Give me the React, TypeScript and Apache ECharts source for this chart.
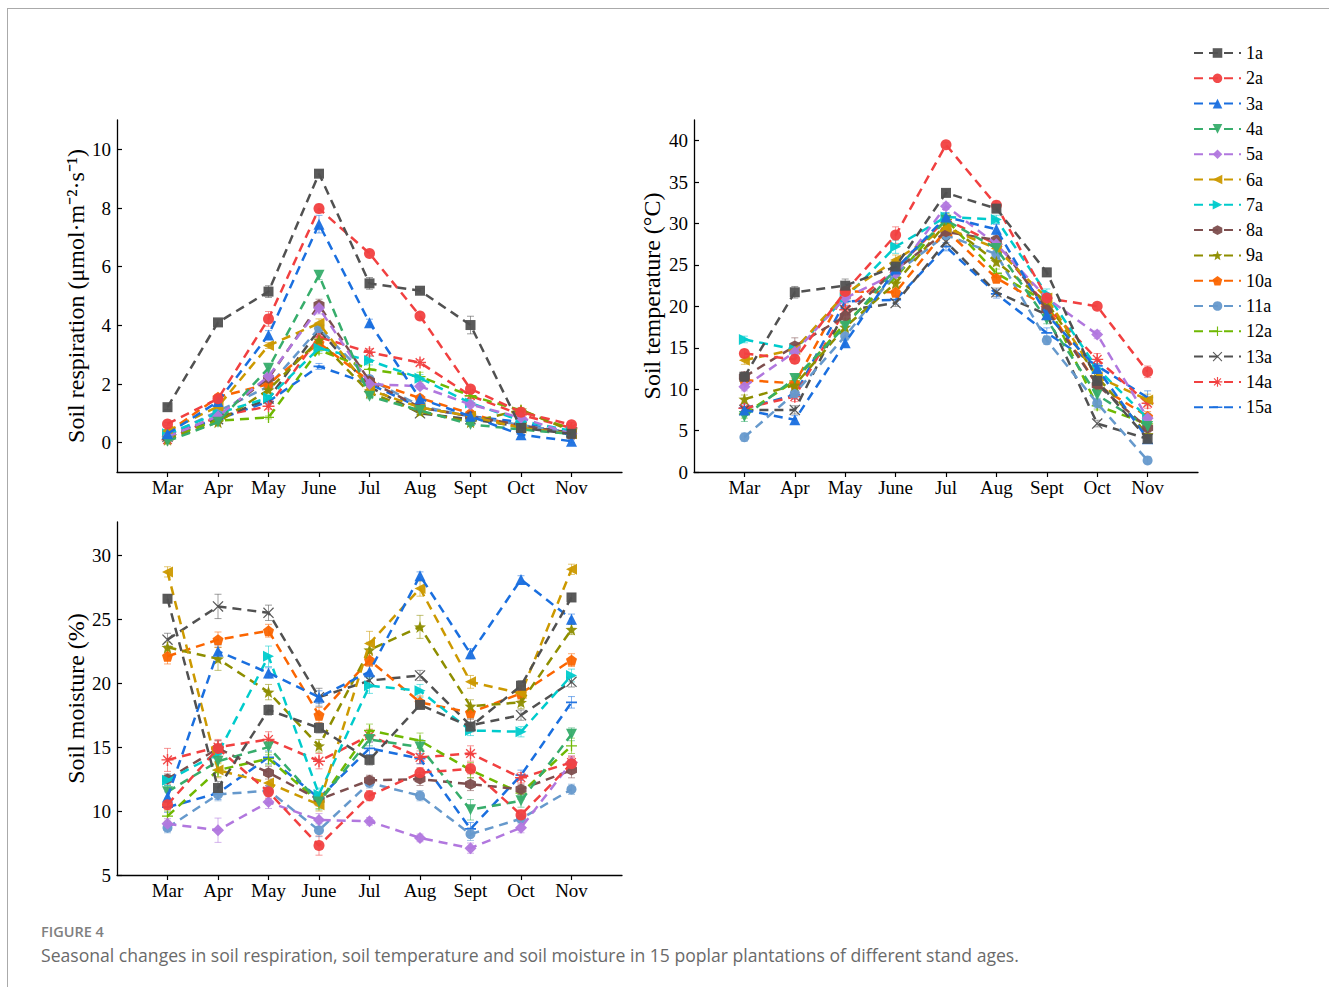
import React, { useEffect, useRef } from 'react';
import * as echarts from 'echarts';

const months = ['Mar', 'Apr', 'May', 'June', 'Jul', 'Aug', 'Sept', 'Oct', 'Nov'];
const standAges = ['1a', '2a', '3a', '4a', '5a', '6a', '7a', '8a', '9a', '10a', '11a', '12a', '13a', '14a', '15a'];

// Soil respiration (μmol·m-2·s-1), one row per stand age, Mar..Nov
const soilRespiration = [
  [1.21, 4.10, 5.15, 9.17, 5.43, 5.18, 4.01, 0.50, 0.30],
  [0.64, 1.50, 4.22, 7.98, 6.45, 4.32, 1.83, 1.04, 0.61],
  [0.30, 1.40, 3.67, 7.45, 4.09, 1.50, 0.90, 0.27, 0.05],
  [0.05, 0.70, 2.54, 5.71, 1.58, 1.10, 0.62, 0.45, 0.30],
  [0.20, 0.90, 2.26, 4.59, 2.00, 1.92, 1.30, 0.85, 0.30],
  [0.40, 1.23, 3.31, 4.07, 1.80, 1.20, 0.90, 0.50, 0.30],
  [0.30, 1.00, 1.53, 3.22, 2.80, 2.20, 1.35, 0.75, 0.40],
  [0.20, 0.90, 2.20, 4.69, 2.10, 1.20, 0.90, 0.60, 0.30],
  [0.10, 0.70, 1.80, 3.50, 1.70, 1.05, 0.70, 1.12, 0.40],
  [0.35, 1.55, 2.00, 3.40, 2.10, 1.52, 1.00, 0.50, 0.30],
  [0.25, 1.07, 1.92, 3.90, 2.17, 1.25, 0.90, 0.60, 0.35],
  [0.20, 0.75, 0.86, 3.16, 2.50, 2.25, 1.60, 1.10, 0.45],
  [0.20, 0.80, 1.50, 3.85, 1.90, 1.00, 0.80, 0.55, 0.35],
  [0.10, 0.90, 1.24, 3.60, 3.08, 2.73, 1.60, 0.95, 0.50],
  [0.30, 0.80, 1.40, 2.60, 2.00, 1.20, 0.90, 0.70, 0.25],
];
const respirationError = [
  [0.08, 0.10, 0.20, 0.10, 0.20, 0.08, 0.30, 0.05, 0.05],
  [0.05, 0.10, 0.25, 0.15, 0.08, 0.12, 0.10, 0.08, 0.08],
  [0.05, 0.08, 0.15, 0.30, 0.12, 0.10, 0.05, 0.05, 0.05],
  [0.05, 0.05, 0.10, 0.15, 0.08, 0.08, 0.05, 0.05, 0.05],
  [0.05, 0.08, 0.12, 0.20, 0.10, 0.10, 0.08, 0.05, 0.05],
  [0.05, 0.10, 0.10, 0.15, 0.10, 0.08, 0.05, 0.05, 0.05],
  [0.05, 0.08, 0.10, 0.12, 0.15, 0.12, 0.08, 0.05, 0.05],
  [0.05, 0.08, 0.12, 0.20, 0.10, 0.08, 0.05, 0.05, 0.05],
  [0.05, 0.05, 0.10, 0.12, 0.10, 0.08, 0.05, 0.08, 0.05],
  [0.05, 0.10, 0.10, 0.12, 0.10, 0.10, 0.08, 0.05, 0.05],
  [0.05, 0.08, 0.10, 0.15, 0.12, 0.08, 0.05, 0.05, 0.05],
  [0.05, 0.05, 0.05, 0.12, 0.25, 0.15, 0.10, 0.05, 0.05],
  [0.05, 0.08, 0.10, 0.15, 0.10, 0.05, 0.05, 0.05, 0.05],
  [0.05, 0.08, 0.10, 0.12, 0.12, 0.10, 0.10, 0.08, 0.08],
  [0.05, 0.05, 0.08, 0.10, 0.10, 0.08, 0.05, 0.05, 0.05],
];

// Soil temperature (°C)
const soilTemperature = [
  [11.5, 21.7, 22.5, 24.8, 33.7, 31.8, 24.1, 11.0, 4.0],
  [14.3, 13.6, 21.8, 28.6, 39.5, 32.2, 21.0, 20.0, 12.1],
  [7.5, 6.3, 15.6, 24.5, 30.8, 29.3, 19.0, 12.5, 4.0],
  [6.7, 11.3, 17.6, 24.5, 30.4, 27.0, 18.4, 9.3, 5.5],
  [10.3, 14.5, 21.0, 24.0, 32.1, 27.5, 21.0, 16.6, 6.5],
  [13.5, 14.8, 21.5, 25.6, 29.5, 27.0, 21.0, 11.5, 8.7],
  [16.0, 14.8, 21.0, 27.2, 30.8, 30.5, 21.5, 12.5, 6.5],
  [11.5, 15.2, 18.8, 24.4, 29.0, 28.0, 19.6, 10.5, 5.3],
  [8.8, 10.5, 17.5, 22.8, 30.0, 25.4, 20.5, 11.5, 4.5],
  [11.1, 10.7, 21.8, 21.7, 29.2, 23.4, 20.0, 10.5, 6.7],
  [4.2, 9.5, 16.4, 24.0, 28.6, 26.3, 15.9, 8.3, 1.4],
  [7.0, 11.0, 18.0, 23.5, 30.5, 24.0, 20.5, 8.0, 5.8],
  [7.5, 7.5, 19.5, 20.4, 27.8, 21.7, 19.0, 5.85, 4.0],
  [7.7, 9.1, 19.6, 24.5, 30.5, 27.5, 20.0, 13.6, 8.3],
  [7.7, 9.3, 20.6, 20.8, 27.2, 21.5, 16.8, 12.8, 9.0],
];
const temperatureError = [
  [0.5, 0.7, 0.8, 0.5, 0.4, 0.4, 0.5, 0.5, 0.4],
  [0.5, 0.5, 0.5, 1.0, 0.3, 0.5, 0.5, 0.4, 0.7],
  [0.4, 0.5, 0.5, 0.5, 0.5, 0.6, 0.5, 0.5, 0.4],
  [0.6, 0.5, 0.5, 0.5, 0.5, 0.5, 0.5, 0.5, 0.5],
  [0.5, 0.6, 0.5, 0.5, 0.4, 0.5, 0.5, 0.5, 0.5],
  [0.5, 0.6, 0.5, 0.6, 0.5, 0.5, 0.5, 0.5, 0.7],
  [0.4, 0.5, 0.5, 0.8, 0.5, 0.5, 0.6, 0.6, 0.6],
  [0.6, 1.0, 0.6, 0.6, 0.5, 0.5, 0.5, 0.5, 0.5],
  [0.5, 0.5, 0.5, 0.5, 0.5, 0.5, 0.5, 0.6, 0.5],
  [0.5, 0.6, 0.5, 0.5, 0.5, 0.5, 0.6, 0.5, 0.6],
  [0.5, 0.5, 0.5, 0.5, 0.5, 0.5, 0.5, 0.6, 0.4],
  [0.5, 0.5, 0.5, 0.5, 0.7, 0.5, 0.6, 0.5, 0.5],
  [0.4, 0.5, 0.5, 0.4, 0.5, 0.5, 0.5, 0.4, 0.4],
  [0.6, 0.6, 0.7, 0.5, 0.5, 0.5, 0.5, 0.7, 0.6],
  [0.5, 0.5, 0.5, 0.5, 0.5, 0.5, 0.6, 0.6, 0.8],
];

// Soil moisture (%)
const soilMoisture = [
  [26.6, 11.8, 17.9, 16.5, 14.0, 18.3, 16.6, 19.8, 26.7],
  [10.5, 14.9, 11.5, 7.3, 11.2, 13.0, 13.3, 9.7, 13.7],
  [11.1, 22.5, 20.8, 18.9, 20.9, 28.4, 22.3, 28.1, 25.0],
  [11.5, 13.9, 15.0, 10.7, 15.6, 15.0, 10.1, 10.8, 16.0],
  [9.0, 8.5, 10.7, 9.3, 9.2, 7.9, 7.1, 8.7, 13.8],
  [28.7, 13.2, 12.2, 10.5, 23.1, 27.4, 20.1, 19.2, 28.9],
  [12.4, 14.5, 22.1, 11.3, 19.8, 19.4, 16.3, 16.2, 20.6],
  [12.5, 14.9, 13.0, 10.9, 12.4, 12.5, 12.1, 11.7, 13.2],
  [22.8, 21.9, 19.3, 15.1, 22.6, 24.4, 18.2, 18.5, 24.2],
  [22.1, 23.4, 24.1, 17.5, 21.8, 18.5, 17.7, 19.2, 21.8],
  [8.7, 11.3, 11.6, 8.5, 12.2, 11.2, 8.2, 9.4, 11.7],
  [9.6, 13.2, 14.1, 10.7, 16.3, 15.5, 13.2, 11.4, 15.1],
  [23.4, 26.0, 25.5, 18.9, 20.2, 20.6, 16.7, 17.5, 20.1],
  [14.0, 15.0, 15.6, 13.9, 15.9, 14.2, 14.5, 12.6, 13.8],
  [10.3, 11.4, 14.2, 11.0, 14.9, 14.1, 8.6, 12.8, 18.5],
];
const moistureError = [
  [0.3, 0.5, 0.4, 0.4, 0.4, 0.3, 0.3, 0.4, 0.3],
  [0.4, 0.6, 0.5, 0.75, 0.4, 0.4, 0.4, 0.4, 0.5],
  [0.4, 0.5, 0.4, 0.5, 0.5, 0.3, 0.4, 0.3, 0.4],
  [0.5, 0.6, 0.6, 0.6, 0.5, 0.6, 0.8, 0.5, 0.5],
  [0.4, 0.95, 0.5, 0.5, 0.3, 0.3, 0.4, 0.4, 0.5],
  [0.4, 0.6, 0.5, 0.5, 0.95, 0.6, 0.5, 0.6, 0.4],
  [0.4, 0.6, 0.8, 0.5, 0.6, 0.5, 0.4, 0.4, 0.5],
  [0.4, 0.6, 0.5, 0.5, 0.4, 0.5, 0.5, 0.4, 0.6],
  [0.4, 0.9, 0.6, 0.5, 0.6, 0.9, 0.5, 0.5, 0.4],
  [0.6, 0.6, 0.5, 0.6, 0.5, 0.5, 0.5, 0.5, 0.5],
  [0.4, 0.5, 0.4, 0.5, 0.4, 0.4, 0.5, 0.4, 0.4],
  [0.4, 0.5, 0.5, 0.5, 0.5, 0.6, 0.6, 0.5, 0.6],
  [0.5, 0.95, 0.6, 0.7, 0.5, 0.4, 0.5, 0.4, 0.4],
  [0.9, 0.6, 0.6, 0.6, 0.5, 0.5, 0.6, 0.4, 0.5],
  [0.4, 0.5, 0.5, 0.4, 0.5, 0.4, 0.5, 0.4, 0.45],
];

const respTicks = [0, 2, 4, 6, 8, 10];
const tempTicks = [0, 5, 10, 15, 20, 25, 30, 35, 40];
const moistTicks = [5, 10, 15, 20, 25, 30];

const colors = [
  '#515151', '#F14040', '#1A6FDF', '#37AD6B', '#B177DE', '#CC9900', '#00CBCC', '#7D4E4E',
  '#8E8E00', '#FB6501', '#6699CC', '#6FB802', '#515151', '#F14040', '#1A6FDF',
];

const symbols = [
  'rect',
  'circle',
  'triangle',
  'path://M0,0L10,0L5,8.66Z',
  'diamond',
  'path://M0,5L8.66,0L8.66,10Z',
  'path://M0,0L8.66,5L0,10Z',
  'path://M5,0L9.33,2.5L9.33,7.5L5,10L0.67,7.5L0.67,2.5Z',
  'path://M5,0L6.23,3.3L9.76,3.45L7,5.65L7.94,9.05L5,7.1L2.06,9.05L3,5.65L0.24,3.45L3.77,3.3Z',
  'path://M5,0L9.76,3.45L7.94,9.05L2.06,9.05L0.24,3.45Z',
  'circle',
  'path://M4.4,0H5.6V4.4H10V5.6H5.6V10H4.4V5.6H0V4.4H4.4Z',
  'path://M0,0.8L0.8,0L5,4.2L9.2,0L10,0.8L5.8,5L10,9.2L9.2,10L5,5.8L0.8,10L0,9.2L4.2,5Z',
  'path://M4.4,0H5.6V4.4H10V5.6H5.6V10H4.4V5.6H0V4.4H4.4Z M1,1.8L1.8,1L5,4.2L8.2,1L9,1.8L5.8,5L9,8.2L8.2,9L5,5.8L1.8,9L1,8.2L4.2,5Z',
  'path://M5,0L5,0.01L5.01,0.01Z M0,4.2H10V5.8H0Z M5,10L5,9.99L4.99,9.99Z',
];
const symbolSizes = [10, 11, 11, 11, 12, 11, 11, 11, 12, 11, 10, 11, 11, 12, 11];

const serif = '"Liberation Serif", "Times New Roman", serif';
const sans = '"Open Sans", "Noto Sans", sans-serif';
const monthIdx = months.map((_, i) => i);

function makeX(gridIndex: number) {
  return {
    type: 'value',
    gridIndex,
    min: -1,
    max: 9,
    interval: 1,
    splitLine: { show: false },
    axisLine: { show: true, onZero: false, lineStyle: { color: '#000', width: 1.3 } },
    axisTick: { show: true, inside: false, length: 5, customValues: monthIdx, lineStyle: { color: '#000', width: 1.2 } },
    axisLabel: {
      customValues: monthIdx,
      formatter: (v: number) => months[v] ?? '',
      fontFamily: serif,
      fontSize: 19,
      color: '#000',
      margin: 6,
    },
  };
}

function makeY(gridIndex: number, min: number, max: number, ticks: number[], name: string, nameGap: number) {
  return {
    type: 'value',
    gridIndex,
    min,
    max,
    name,
    nameLocation: 'middle',
    nameGap,
    nameTextStyle: { fontFamily: serif, fontSize: 24, color: '#000' },
    splitLine: { show: false },
    axisLine: { show: true, onZero: false, lineStyle: { color: '#000', width: 1.3 } },
    axisTick: { show: true, inside: true, length: 5, customValues: ticks, lineStyle: { color: '#000', width: 1.2 } },
    axisLabel: { customValues: ticks, fontFamily: serif, fontSize: 19, color: '#000', margin: 6 },
  };
}

function makeSeries(panel: number, table: number[][]) {
  return table.map((row, i) => ({
    type: 'line',
    name: standAges[i],
    xAxisIndex: panel,
    yAxisIndex: panel,
    data: row.map((v, j) => [j, v]),
    symbol: symbols[i],
    symbolSize: symbolSizes[i],
    itemStyle: { color: colors[i], opacity: 0.95 },
    lineStyle: { color: colors[i], width: 2.5, type: [9, 6] },
    z: 3 + (15 - i) / 100,
  }));
}

function makeErrorBars(panel: number, table: number[][], errors: number[][]) {
  const data: number[][] = [];
  table.forEach((row, i) =>
    row.forEach((v, j) => {
      const e = errors[i][j];
      data.push([j, v - e, v + e, i]);
    })
  );
  return {
    type: 'custom',
    xAxisIndex: panel,
    yAxisIndex: panel,
    z: 2,
    silent: true,
    encode: { x: 0, y: [1, 2] },
    data,
    renderItem: (_params: any, api: any) => {
      const x = api.value(0);
      const lo = api.coord([x, api.value(1)]);
      const hi = api.coord([x, api.value(2)]);
      const c = colors[api.value(3)];
      const hw = 3.5;
      const style = { stroke: c, lineWidth: 1, opacity: 0.55 };
      return {
        type: 'group',
        children: [
          { type: 'line', shape: { x1: lo[0], y1: lo[1], x2: hi[0], y2: hi[1] }, style },
          { type: 'line', shape: { x1: lo[0] - hw, y1: lo[1], x2: lo[0] + hw, y2: lo[1] }, style },
          { type: 'line', shape: { x1: hi[0] - hw, y1: hi[1], x2: hi[0] + hw, y2: hi[1] }, style },
        ],
      };
    },
  };
}

export default function App() {
  const ref = useRef<HTMLDivElement>(null);
  useEffect(() => {
    if (!ref.current) return;
    const chart = echarts.init(ref.current, null, { renderer: 'svg' });
    chart.setOption({
      animation: false,
      backgroundColor: '#fff',
      grid: [
        { left: 117, top: 120, width: 505, height: 352 },
        { left: 694, top: 120, width: 504, height: 352 },
        { left: 117, top: 522, width: 505, height: 353 },
      ],
      xAxis: [makeX(0), makeX(1), makeX(2)],
      yAxis: [
        makeY(0, -1, 11, respTicks, 'Soil respiration (μmol·m⁻²·s⁻¹)', 27),
        makeY(1, 0, 42.5, tempTicks, 'Soil temperature (°C)', 30),
        makeY(2, 5, 32.6, moistTicks, 'Soil moisture (%)', 28),
      ],
      legend: {
        data: standAges,
        orient: 'vertical',
        left: 1193,
        top: 44,
        padding: 0,
        itemWidth: 47,
        itemHeight: 12,
        itemGap: 7.3,
        textStyle: { fontFamily: serif, fontSize: 18, color: '#000', lineHeight: 18 },
      },
      graphic: [
        { type: 'line', shape: { x1: 7, y1: 8.5, x2: 1329, y2: 8.5 }, style: { stroke: '#aaa', lineWidth: 1 } },
        { type: 'line', shape: { x1: 7.5, y1: 8, x2: 7.5, y2: 987 }, style: { stroke: '#aaa', lineWidth: 1 } },
        {
          type: 'text',
          x: 41,
          y: 931,
          style: { text: 'FIGURE 4', font: `600 14.5px ${sans}`, fill: '#808080', verticalAlign: 'middle' },
        },
        {
          type: 'text',
          x: 41,
          y: 955,
          style: {
            text: 'Seasonal changes in soil respiration, soil temperature and soil moisture in 15 poplar plantations of different stand ages.',
            font: `17.6px ${sans}`,
            fill: '#6a6a6a',
            verticalAlign: 'middle',
          },
        },
      ],
      series: [
        makeErrorBars(0, soilRespiration, respirationError),
        makeErrorBars(1, soilTemperature, temperatureError),
        makeErrorBars(2, soilMoisture, moistureError),
        ...makeSeries(0, soilRespiration),
        ...makeSeries(1, soilTemperature),
        ...makeSeries(2, soilMoisture),
      ],
    });
    return () => chart.dispose();
  }, []);
  return <div ref={ref} style={{ position: 'absolute', left: 0, top: 0, width: 1329, height: 987 }} />;
}
